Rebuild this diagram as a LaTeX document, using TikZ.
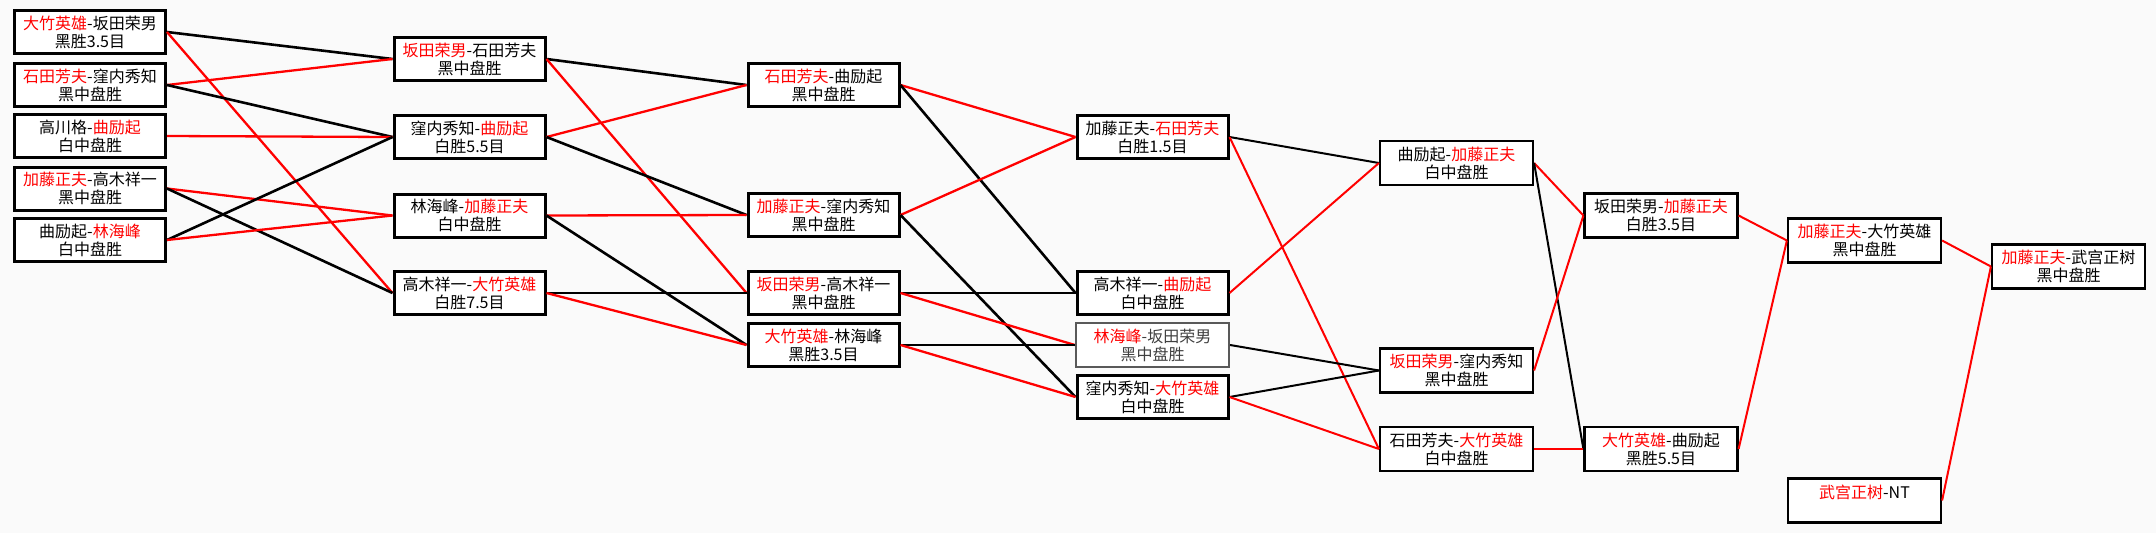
\documentclass[tikz,border=0pt]{standalone}
\usepackage{fontspec}
\newfontfamily\cjk{Noto Sans CJK SC}
\usepackage{tikz}
\usepackage{xcolor}
\tikzstyle{game} = [rectangle, draw=black, fill=white, line width=3pt, minimum width=151pt, minimum height=43pt, inner sep=1pt, align=center, font=\cjk\fontsize{16}{18}\selectfont]
\tikzstyle{gamelite} = [game, line width=2.2pt, minimum width=153pt, minimum height=44pt]
\tikzstyle{win} = [red, line width=2.3pt]
\tikzstyle{lose} = [black, line width=2.6pt]
\newcommand{\wn}[1]{\textcolor{red}{#1}}

\begin{document}
\begin{tikzpicture}[x=1pt, y=-1pt]
  \useasboundingbox (0,0) rectangle (2156,533);
  \fill[black!2] (0,0) rectangle (2156,533);

  % Round 1
  \node[game] (a1) at (90,32) {\wn{大竹英雄}-坂田荣男\\黑胜3.5目};
  \node[game] (a2) at (90,85) {\wn{石田芳夫}-窪内秀知\\黑中盘胜};
  \node[game] (a3) at (90,136) {高川格-\wn{曲励起}\\白中盘胜};
  \node[game] (a4) at (90,188.5) {\wn{加藤正夫}-高木祥一\\黑中盘胜};
  \node[game] (a5) at (90,240) {曲励起-\wn{林海峰}\\白中盘胜};

  % Round 2
  \node[game] (b1) at (469.5,59) {\wn{坂田荣男}-石田芳夫\\黑中盘胜};
  \node[game] (b2) at (469.5,137) {窪内秀知-\wn{曲励起}\\白胜5.5目};
  \node[game] (b3) at (469.5,215.5) {林海峰-\wn{加藤正夫}\\白中盘胜};
  \node[game] (b4) at (469.5,293) {高木祥一-\wn{大竹英雄}\\白胜7.5目};

  % Round 3
  \node[game] (c1) at (823.5,85) {\wn{石田芳夫}-曲励起\\黑中盘胜};
  \node[game] (c2) at (823.5,215) {\wn{加藤正夫}-窪内秀知\\黑中盘胜};
  \node[game] (c3) at (823.5,293) {\wn{坂田荣男}-高木祥一\\黑中盘胜};
  \node[game] (c4) at (823.5,345) {\wn{大竹英雄}-林海峰\\黑胜3.5目};

  % Round 4
  \node[game] (d1) at (1152.5,137) {加藤正夫-\wn{石田芳夫}\\白胜1.5目};
  \node[game] (d2) at (1152.5,293) {高木祥一-\wn{曲励起}\\白中盘胜};
  \node[gamelite, draw=black!65, text=black!75] (d3) at (1152.5,345) {\wn{林海峰}-坂田荣男\\黑中盘胜};
  \node[game] (d4) at (1152.5,397) {窪内秀知-\wn{大竹英雄}\\白中盘胜};

  % Round 5
  \node[gamelite] (e1) at (1456.5,163) {曲励起-\wn{加藤正夫}\\白中盘胜};
  \node[gamelite] (e2) at (1456.5,370.5) {\wn{坂田荣男}-窪内秀知\\黑中盘胜};
  \node[gamelite] (e3) at (1456.5,449) {石田芳夫-\wn{大竹英雄}\\白中盘胜};

  % Round 6
  \node[gamelite] (f1) at (1661,215.5) {坂田荣男-\wn{加藤正夫}\\白胜3.5目};
  \node[gamelite] (f2) at (1661,449) {\wn{大竹英雄}-曲励起\\黑胜5.5目};

  % Round 7
  \node[gamelite] (g1) at (1864.5,240.5) {\wn{加藤正夫}-大竹英雄\\黑中盘胜};
  \node[gamelite] (g2) at (1864.5,500.5) {\wn{武宫正树}-NT\\~};

  % Final
  \node[gamelite] (h1) at (2068.5,266.5) {\wn{加藤正夫}-武宫正树\\黑中盘胜};

  % Round 1 -> 2
  \draw[lose] (a1.east) -- (b1.west);
  \draw[win] (a1.east) -- (b4.west);
  \draw[win] (a2.east) -- (b1.west);
  \draw[lose] (a2.east) -- (b2.west);
  \draw[win] (a3.east) -- (b2.west);
  \draw[win] (a4.east) -- (b3.west);
  \draw[lose] (a4.east) -- (b4.west);
  \draw[lose] (a5.east) -- (b2.west);
  \draw[win] (a5.east) -- (b3.west);

  % Round 2 -> 3
  \draw[lose] (b1.east) -- (c1.west);
  \draw[win] (b1.east) -- (c3.west);
  \draw[win] (b2.east) -- (c1.west);
  \draw[lose] (b2.east) -- (c2.west);
  \draw[win] (b3.east) -- (c2.west);
  \draw[lose] (b3.east) -- (c4.west);
  \draw[lose] (b4.east) -- (c3.west);
  \draw[win] (b4.east) -- (c4.west);

  % Round 3 -> 4
  \draw[win] (c1.east) -- (d1.west);
  \draw[lose] (c1.east) -- (d2.west);
  \draw[win] (c2.east) -- (d1.west);
  \draw[lose] (c2.east) -- (d4.west);
  \draw[lose] (c3.east) -- (d2.west);
  \draw[win] (c3.east) -- (d3.west);
  \draw[lose] (c4.east) -- (d3.west);
  \draw[win] (c4.east) -- (d4.west);

  % Round 4 -> 5
  \draw[lose, line width=2pt] (d1.east) -- (e1.west);
  \draw[win, line width=2pt] (d1.east) -- (e3.west);
  \draw[win, line width=2pt] (d2.east) -- (e1.west);
  \draw[lose, line width=2pt] (d3.east) -- (e2.west);
  \draw[lose, line width=2pt] (d4.east) -- (e2.west);
  \draw[win, line width=2pt] (d4.east) -- (e3.west);

  % Round 5 -> final
  \draw[win, line width=2pt] (e1.east) -- (f1.west);
  \draw[lose, line width=2pt] (e1.east) -- (f2.west);
  \draw[win, line width=2pt] (e2.east) -- (f1.west);
  \draw[win, line width=2pt] (e3.east) -- (f2.west);
  \draw[win, line width=2pt] (f1.east) -- (g1.west);
  \draw[win, line width=2pt] (f2.east) -- (g1.west);
  \draw[win, line width=2pt] (g1.east) -- (h1.west);
  \draw[win, line width=2pt] (g2.east) -- (h1.west);
\end{tikzpicture}
\end{document}
